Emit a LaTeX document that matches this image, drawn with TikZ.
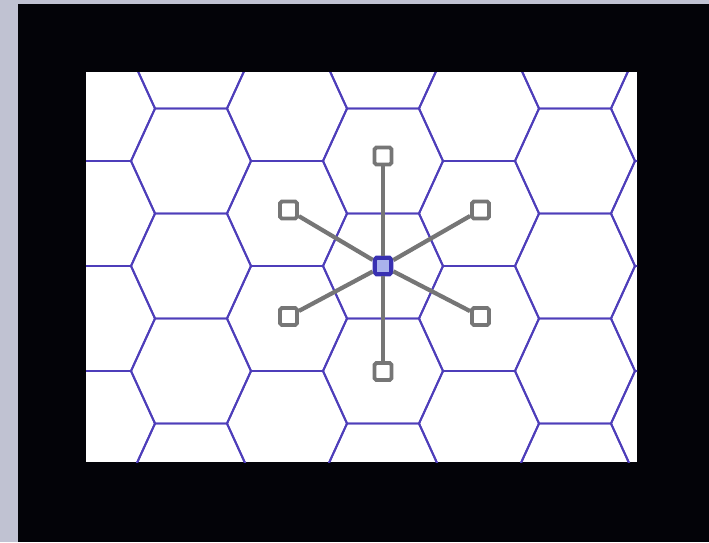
\documentclass[tikz,border=0pt]{standalone}

\definecolor{backdrop}{RGB}{192,194,210}
\definecolor{frame}{RGB}{3,3,8}
\definecolor{hexline}{RGB}{78,62,186}
\definecolor{spoke}{RGB}{118,118,118}
\definecolor{hubfill}{RGB}{170,178,236}
\definecolor{hubdraw}{RGB}{56,48,178}

\begin{document}
\begin{tikzpicture}[
	x=0.02cm,
	y=-0.02cm,
	hexcell/.style={
		draw=hexline,
		line width=1.1pt,
		line join=miter
	},
	cellmark/.style={
		rectangle,
		rounded corners=1pt,
		draw=spoke,
		fill=white,
		line width=2.2pt,
		minimum size=0.34cm,
		inner sep=0pt
	},
	hubmark/.style={cellmark, draw=hubdraw, fill=hubfill, line width=2.4pt, minimum size=0.33cm},
	link/.style={draw=spoke, line width=2.4pt}
]

% Fondo y marco
\fill[backdrop] (0,0) rectangle (709,542);
\fill[frame] (18,4) rectangle (709,542);
\fill[white] (86,72) rectangle (637,462);

% Rejilla hexagonal
\begin{scope}
	\clip (86,72) rectangle (637,462);
	\foreach \cx in {-1,191,383,575}
		\foreach \cy in {56,161,266,371,476}
			\draw[hexcell] (\cx-36,\cy-52.5) -- (\cx+36,\cy-52.5) -- (\cx+60,\cy)
				-- (\cx+36,\cy+52.5) -- (\cx-36,\cy+52.5) -- (\cx-60,\cy) -- cycle;
	\foreach \cx in {95,287,479,671}
		\foreach \cy in {3.5,108.5,213.5,318.5,423.5,528.5}
			\draw[hexcell] (\cx-36,\cy-52.5) -- (\cx+36,\cy-52.5) -- (\cx+60,\cy)
				-- (\cx+36,\cy+52.5) -- (\cx-36,\cy+52.5) -- (\cx-60,\cy) -- cycle;
\end{scope}

% Celda central y vecinas
\node[hubmark] (hub) at (383,266) {};
\node[cellmark] (north) at (383,156) {};
\node[cellmark] (northwest) at (288.5,210) {};
\node[cellmark] (northeast) at (480.5,210) {};
\node[cellmark] (southwest) at (288.5,316.5) {};
\node[cellmark] (southeast) at (480.5,316.5) {};
\node[cellmark] (south) at (383,371.5) {};

% Conexiones
\foreach \nb in {north,northwest,northeast,southwest,southeast,south}
	\draw[link] (hub) -- (\nb);

\end{tikzpicture}
\end{document}
